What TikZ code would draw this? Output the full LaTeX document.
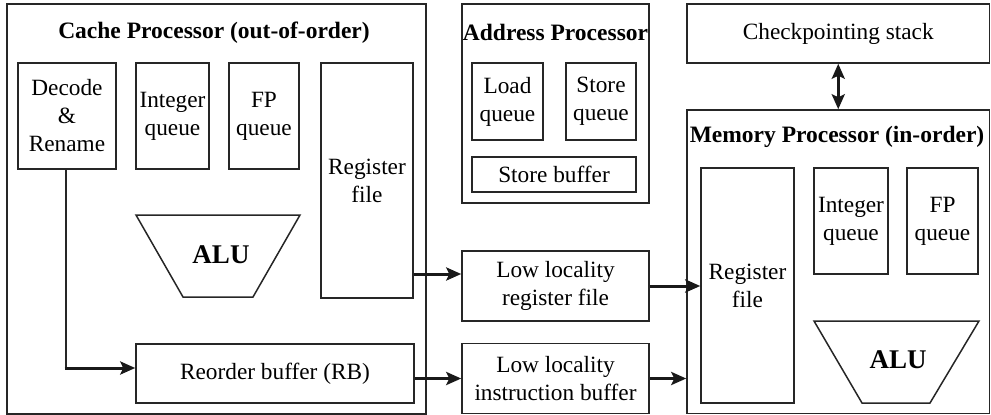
\documentclass[tikz,border=0pt]{standalone}
\usepackage{fontspec}
\setmainfont{Liberation Serif}
\usetikzlibrary{arrows.meta,calc}
\begin{document}
\begin{tikzpicture}[x=1pt,y=-1pt,
  box/.style={draw=black!85,line width=1.5pt,inner sep=0pt,align=center,
    font=\fontsize{23.3}{28}\selectfont},
  ttl/.style={font=\fontsize{23.5}{28}\selectfont\bfseries,inner sep=0pt},
  alutxt/.style={font=\fontsize{27}{30}\selectfont\bfseries,inner sep=0pt},
  thinln/.style={draw=black!85,line width=1.5pt},
  arr/.style={draw=black!90,line width=3pt,-{Stealth[length=15pt,width=13pt,inset=3pt]}},
  darr/.style={draw=black!90,line width=3pt,{Stealth[length=15pt,width=13pt,inset=3pt]}-{Stealth[length=15pt,width=13pt,inset=3pt]}}]
\useasboundingbox (0,0) rectangle (991,415);
% Cache processor
\node[box,minimum width=419pt,minimum height=410pt] (cache) at (216.5,209) {};
\node[ttl] (cachet) at (214,33) {Cache Processor (out-of-order)};
\node[box,minimum width=98pt,minimum height=106pt] (dec) at (67,116) {Decode\\\&\\Rename};
\node[box,minimum width=73pt,minimum height=106pt] (intq) at (172.5,116) {Integer\\queue};
\node[box,minimum width=70pt,minimum height=106pt] (fpq) at (264,116) {FP\\queue};
\node[box,minimum width=92pt,minimum height=235pt] (rf) at (367,180.5) {Register\\file};
\node[box,minimum width=278pt,minimum height=59pt] (rob) at (275,373.5) {Reorder buffer (RB)};
\draw[thinln,line join=miter] (136,215) -- (300,215) -- (253,297) -- (183,297) -- cycle;
\node[alutxt] (alu1) at (221,255) {ALU};
% Address processor
\node[box,minimum width=187pt,minimum height=199pt] (addr) at (555.5,103.5) {};
\node[ttl] (addrt) at (555.5,32) {Address Processor};
\node[box,minimum width=71pt,minimum height=77pt] (ldq) at (507.5,101.5) {Load\\queue};
\node[box,minimum width=70pt,minimum height=77pt] (stq) at (601,101.5) {Store\\queue};
\node[box,minimum width=164pt,minimum height=35pt] (sb) at (554,174.5) {Store buffer};
% Low locality
\node[box,minimum width=187pt,minimum height=70pt] (llrf) at (555.5,286) {Low locality\\register file};
\node[box,minimum width=187pt,minimum height=70pt] (llib) at (555.5,378.5) {Low locality\\instruction buffer};
% Checkpointing + memory
\node[box,minimum width=302.5pt,minimum height=59pt] (cps) at (838.25,33.5) {Checkpointing stack};
\node[box,minimum width=302.5pt,minimum height=303.5pt] (mem) at (838.25,261.75) {};
\node[ttl] (memt) at (837,137) {Memory Processor (in-order)};
\node[box,minimum width=93pt,minimum height=235pt] (mrf) at (747.5,285.5) {Register\\file};
\node[box,minimum width=74pt,minimum height=106pt] (mintq) at (851,221) {Integer\\queue};
\node[box,minimum width=71pt,minimum height=106pt] (mfpq) at (942.5,221) {FP\\queue};
\draw[thinln,line join=miter] (814,321) -- (979,321) -- (930,403) -- (862,403) -- cycle;
\node[alutxt] (alu2) at (898,360) {ALU};
% connectors
\coordinate (bend) at (66,368);
\draw[thinln] (dec.south -| bend) -- (bend);
\draw[arr] ([xshift=-1.5pt]bend) -- (rob.west |- bend);
\draw[arr] (rf.east |- 0,274) -- (llrf.west |- 0,274);
\draw[arr] (rob.east |- llib.west) -- (llib.west);
\draw[arr] (llrf.east) -- (mrf.west |- llrf.east);
\draw[arr] (llib.east) -- (mem.west |- llib.east);
\draw[darr] (cps.south) -- (mem.north);
\end{tikzpicture}
\end{document}
